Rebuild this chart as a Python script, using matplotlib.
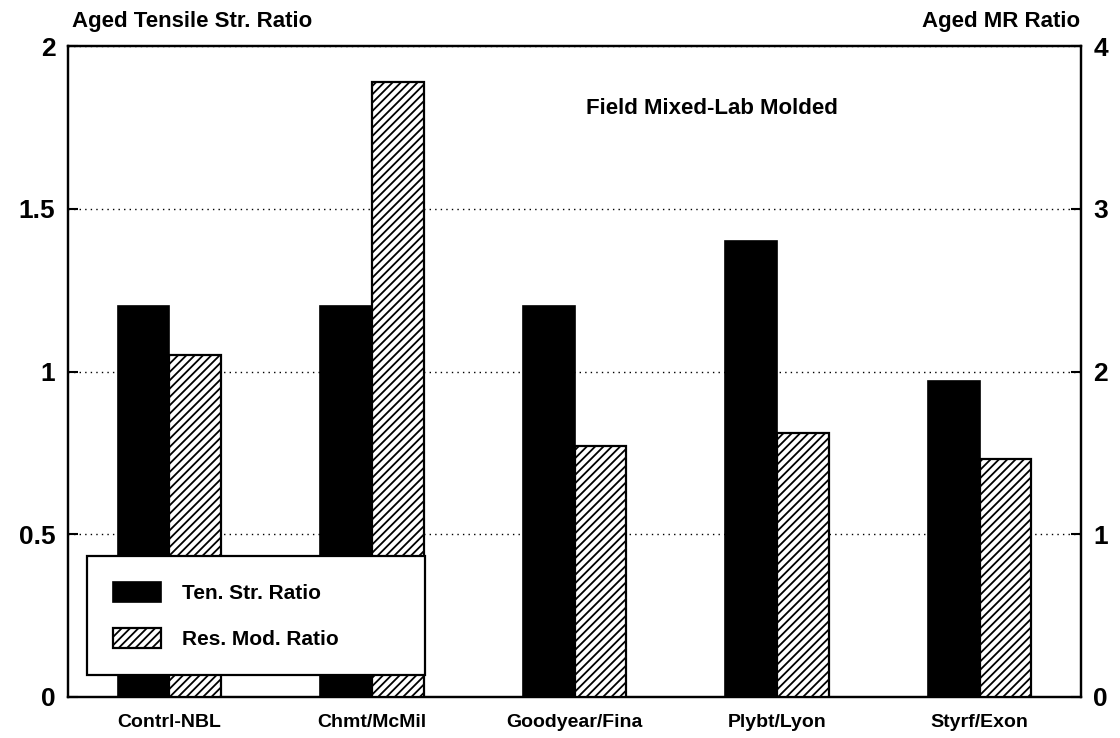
import matplotlib
matplotlib.use("Agg")
import matplotlib.pyplot as plt
import numpy as np

# data
categories = ["Contrl-NBL", "Chmt/McMil", "Goodyear/Fina", "Plybt/Lyon", "Styrf/Exon"]
tensile_ratio = [1.2, 1.2, 1.2, 1.4, 0.97]      # left axis
mr_ratio = [2.1, 3.78, 1.54, 1.62, 1.46]        # right axis
left_ticks = [0, 0.5, 1, 1.5, 2]
left_labels = ["0", "0.5", "1", "1.5", "2"]
right_ticks = [0, 1, 2, 3, 4]

plt.rcParams["font.family"] = ["Liberation Sans", "DejaVu Sans"]
plt.rcParams["font.weight"] = "bold"
plt.rcParams["hatch.linewidth"] = 1.3

fig = plt.figure(figsize=(11.2, 7.38), dpi=100)
ax = fig.add_axes([68 / 1120, 41 / 738, 1013 / 1120, 651 / 738])
ax2 = ax.twinx()

x = np.arange(len(categories))
w = 0.255

# black bars (left scale)
ax.bar(x - w / 2, tensile_ratio, width=w, color="black", edgecolor="black",
       linewidth=1.2, zorder=3, label="Ten. Str. Ratio")
# hatched bars (right scale)
ax2.bar(x + w / 2, mr_ratio, width=w, color="white", edgecolor="black",
        hatch="////", linewidth=1.6, zorder=3, label="Res. Mod. Ratio")

ax.set_xlim(-0.5, len(categories) - 0.5)
ax.set_ylim(0, 2)
ax2.set_ylim(0, 4)

ax.set_yticks(left_ticks)
ax.set_yticklabels(left_labels)
ax2.set_yticks(right_ticks)
ax.set_xticks(x)
ax.set_xticklabels(categories, fontsize=14, fontweight="bold")

for a in (ax, ax2):
    for s in a.spines.values():
        s.set_linewidth(1.6)
        s.set_color("black")

ax.tick_params(axis="y", direction="in", length=7, width=1.5, pad=9,
               labelsize=19)
ax2.tick_params(axis="y", direction="in", length=7, width=1.5, pad=9,
                labelsize=19)
ax.tick_params(axis="x", length=0, pad=12)

# dotted grid lines
ax.yaxis.grid(True, linestyle=(0, (1, 3)), color="black", linewidth=1.0)
ax.set_axisbelow(True)

# axis titles and annotation
fig.text(72 / 1120, 1 - 21 / 738, "Aged Tensile Str. Ratio", fontsize=16,
         fontweight="bold", ha="left", va="center")
fig.text(1080 / 1120, 1 - 21 / 738, "Aged MR Ratio", fontsize=16,
         fontweight="bold", ha="right", va="center")
ax.text((712 - 68) / 1013, (697 - 108) / 651,
        "Field Mixed-Lab Molded", transform=ax.transAxes, fontsize=16,
        fontweight="bold", ha="center", va="center")

# legend
h1, l1 = ax.get_legend_handles_labels()
h2, l2 = ax2.get_legend_handles_labels()
leg = ax2.legend(h1 + h2, l1 + l2, loc="lower left",
                 bbox_to_anchor=((87 - 68) / 1013, (697 - 675) / 651,
                                 (425 - 87) / 1013, 0),
                 mode="expand", borderaxespad=0, fancybox=False,
                 framealpha=1, edgecolor="black", fontsize=15,
                 handlelength=2.3, handleheight=1.05, handletextpad=1.0,
                 labelspacing=1.2, borderpad=1.25)
leg.get_frame().set_linewidth(1.6)

fig.savefig("out.png", dpi=100)
